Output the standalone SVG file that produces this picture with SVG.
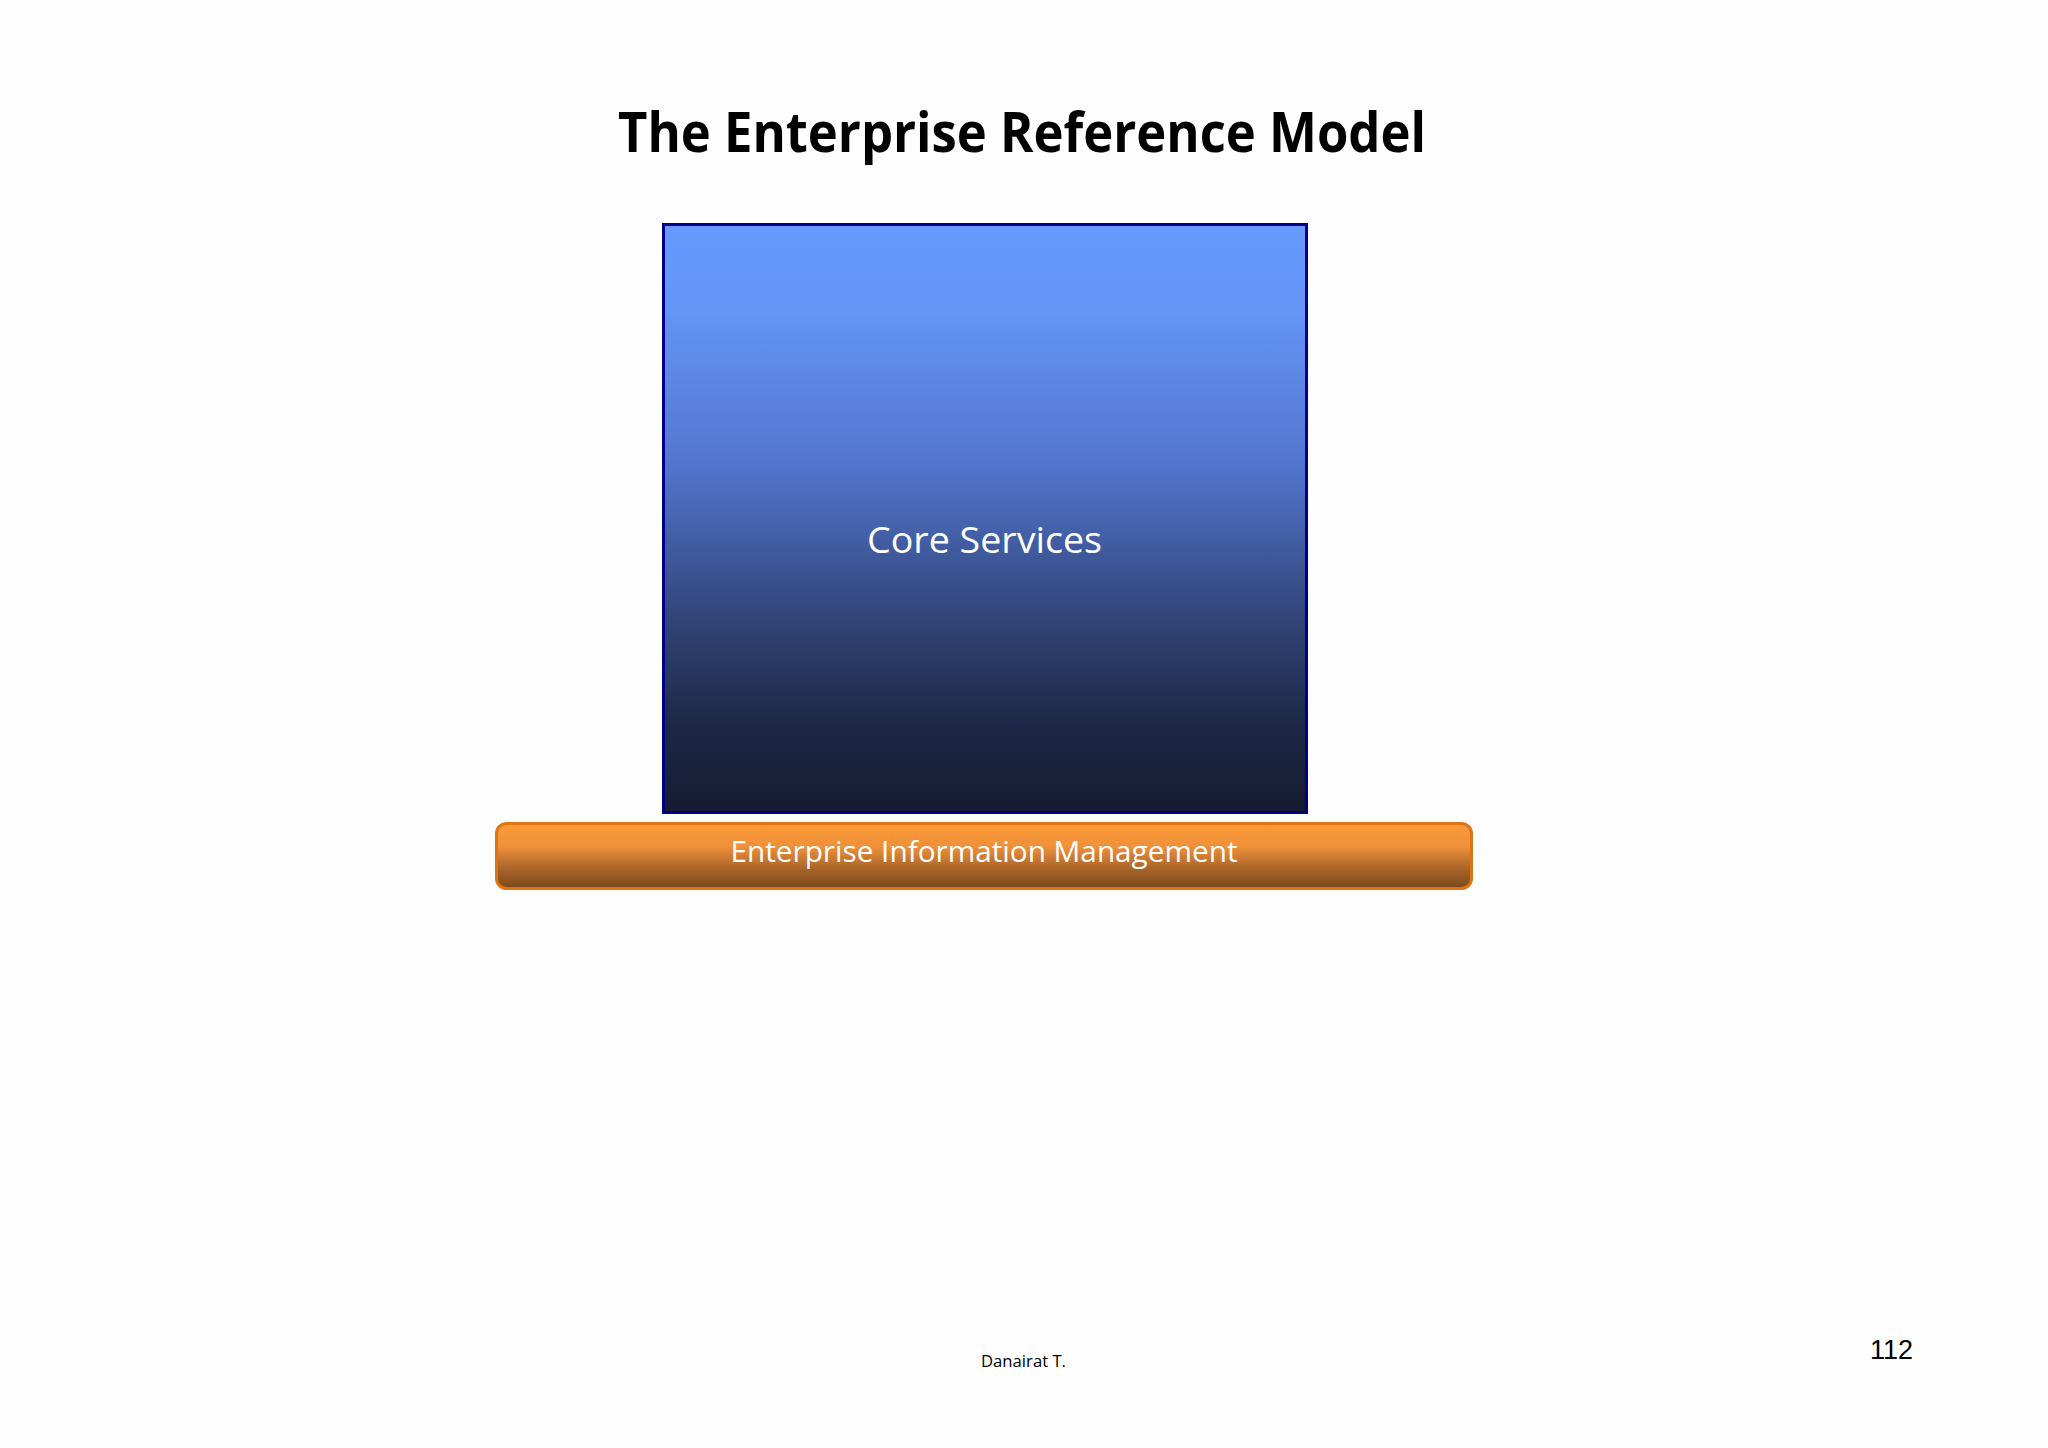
<svg xmlns="http://www.w3.org/2000/svg" width="2048" height="1448" viewBox="0 0 2048 1448">
  <defs>
    <linearGradient id="gBlue" x1="0" y1="0" x2="0" y2="1">
      <stop offset="0" stop-color="#6899FF"/>
      <stop offset="0.15" stop-color="#6494F6"/>
      <stop offset="0.4" stop-color="#5377D0"/>
      <stop offset="0.65" stop-color="#34487F"/>
      <stop offset="0.85" stop-color="#1D2846"/>
      <stop offset="1" stop-color="#151C30"/>
    </linearGradient>
    <linearGradient id="gOrange" x1="0" y1="0" x2="0" y2="1">
      <stop offset="0" stop-color="#FA9936"/>
      <stop offset="0.35" stop-color="#F0913A"/>
      <stop offset="0.7" stop-color="#A8642A"/>
      <stop offset="1" stop-color="#7A481C"/>
    </linearGradient>
    <style>
      .title { font-family: "Open Sans", "Liberation Sans", sans-serif; font-weight: bold; font-size: 55px; fill: #000; }
      .lbl { font-family: "Open Sans", "Liberation Sans", sans-serif; fill: #fff; text-anchor: middle; }
      .foot { font-family: "Open Sans", "Liberation Sans", sans-serif; fill: #000; }
    </style>
  </defs>
  <rect width="2048" height="1448" fill="#FEFEFE"/>
  <text class="title" x="618" y="152" textLength="808" lengthAdjust="spacingAndGlyphs">The Enterprise Reference Model</text>
  <g id="core-services">
    <rect x="663.5" y="224.5" width="643" height="588" fill="url(#gBlue)" stroke="#00008A" stroke-width="3"/>
    <text class="lbl" x="984.5" y="553" font-size="36" textLength="235" lengthAdjust="spacingAndGlyphs">Core Services</text>
  </g>
  <g id="eim">
    <rect x="496.5" y="823.5" width="975" height="65" rx="10" ry="10" fill="url(#gOrange)" stroke="#E07414" stroke-width="3"/>
    <text class="lbl" x="984" y="862" font-size="29" textLength="507" lengthAdjust="spacingAndGlyphs">Enterprise Information Management</text>
  </g>
  <g id="connectors"/>
  <text class="foot" x="981" y="1367" font-size="17" textLength="85" lengthAdjust="spacingAndGlyphs">Danairat T.</text>
  <text x="1870" y="1359" font-family="Liberation Sans, Arial, sans-serif" font-size="27" fill="#000">112</text>
</svg>
